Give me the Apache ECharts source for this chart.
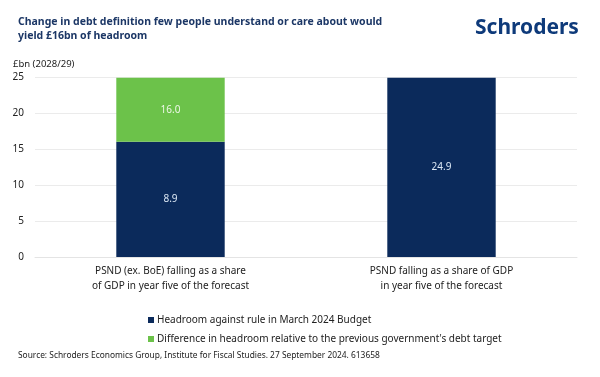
<!DOCTYPE html>
<html>
<head>
<meta charset="utf-8">
<script src="https://cdn.jsdelivr.net/npm/echarts@6/dist/echarts.min.js"></script>
<style>
  html, body { margin: 0; padding: 0; background: #fff; }
  #chart { width: 600px; height: 377px; }
</style>
</head>
<body>
<div id="chart"></div>
<script>
// categories on the x axis
var categories = [
    'PSND (ex. BoE) falling as a share\nof GDP in year five of the forecast',
    'PSND falling as a share of GDP\nin year five of the forecast'
];
var seriesNames = [
    'Headroom against rule in March 2024 Budget',
    "Difference in headroom relative to the previous government's debt target"
];
// bar heights as drawn in the picture
var headroomValues = [16.0, 24.9];
var differenceValues = [8.9, null];
// labels as printed on the bars
var headroomLabels = ['8.9', '24.9'];
var differenceLabels = ['16.0', ''];

var navy = '#0b2a5b';
var green = '#6cc24a';
var font = 'Noto Sans';

var chart = echarts.init(document.getElementById('chart'));

var option = {
    backgroundColor: '#fff',
    textStyle: { fontFamily: font },
    animation: false,
    title: [{
        text: 'Change in debt definition few people understand or care about would\nyield £16bn of headroom',
        left: 13,
        top: 10,
        textStyle: { color: '#1c3766', fontSize: 10.5, fontWeight: 'bold', lineHeight: 14, fontFamily: font }
    }, {
        text: 'Schroders',
        left: 470,
        top: 13,
        textStyle: { color: '#0e3a7a', fontSize: 21, fontWeight: 'bold', fontFamily: font }
    }, {
        text: 'Source: Schroders Economics Group, Institute for Fiscal Studies. 27 September 2024. 613658',
        left: 13,
        top: 347,
        textStyle: { color: '#222', fontSize: 8.4, fontWeight: 'normal', fontFamily: font }
    }],
    legend: {
        orient: 'vertical',
        left: 143,
        top: 310,
        itemWidth: 6,
        itemHeight: 6,
        itemGap: 9,
        icon: 'rect',
        textStyle: { color: '#222', fontSize: 10, fontFamily: font, padding: [0, 0, 0, -2] },
        data: seriesNames
    },
    grid: { left: 35, right: 23, top: 77, bottom: 120 },
    xAxis: {
        type: 'category',
        data: categories,
        axisLine: { show: true, lineStyle: { color: '#e4e4e4' } },
        axisTick: { show: false },
        axisLabel: { color: '#222', fontSize: 10, lineHeight: 15, margin: 7 }
    },
    yAxis: {
        type: 'value',
        min: 0,
        max: 25,
        interval: 5,
        name: '£bn (2028/29)',
        nameLocation: 'end',
        nameGap: 8,
        nameTextStyle: { color: '#222', fontSize: 9.5, align: 'left', padding: [0, 0, 0, -22] },
        axisLine: { show: false },
        axisTick: { show: false },
        axisLabel: { color: '#222', fontSize: 10, margin: 11 },
        splitLine: { lineStyle: { color: '#ebebeb' } }
    },
    series: [{
        name: seriesNames[0],
        type: 'bar',
        stack: 'total',
        barWidth: '40%',
        itemStyle: { color: navy },
        data: headroomValues,
        label: {
            show: true,
            position: 'inside',
            color: '#dce8f5',
            fontSize: 10,
            formatter: function (p) { return headroomLabels[p.dataIndex]; }
        }
    }, {
        name: seriesNames[1],
        type: 'bar',
        stack: 'total',
        barWidth: '40%',
        itemStyle: { color: green },
        data: differenceValues,
        label: {
            show: true,
            position: 'inside',
            color: '#eef7e8',
            fontSize: 10,
            formatter: function (p) { return differenceLabels[p.dataIndex]; }
        }
    }]
};

chart.setOption(option);
</script>
</body>
</html>
